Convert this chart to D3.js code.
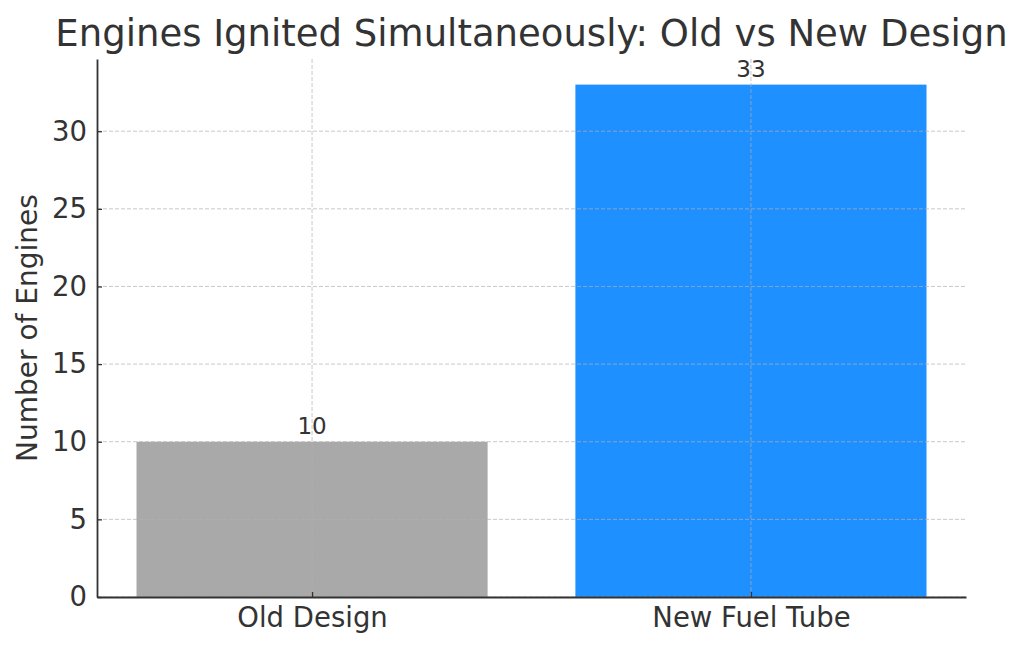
<!DOCTYPE html>
<html><head><meta charset="utf-8">
<script src="https://cdn.jsdelivr.net/npm/d3@7"></script>
<style>body{margin:0;background:#fff;} text{font-family:"DejaVu Sans",sans-serif;}</style>
</head><body>
<svg id="c" width="1024" height="649"></svg>
<script>
const categories = ["Old Design", "New Fuel Tube"];
const values = [10, 33];
const colors = ["#a9a9a9", "#1e90ff"];
const yTicks = [0, 5, 10, 15, 20, 25, 30];
const title = "Engines Ignited Simultaneously: Old vs New Design";
const yLabel = "Number of Engines";

const svg = d3.select("#c");
const L = 97, R = 966, T = 59, B = 597;
const x = d3.scaleLinear().domain([-0.49, 1.49]).range([L, R]);
const y = d3.scaleLinear().domain([0, 34.65]).range([B, T]);
const bw = 0.8;
const ink = "#333333";

// bars
svg.selectAll("rect.bar").data(values).enter().append("rect")
  .attr("x", (d,i) => x(i - bw/2)).attr("width", (d,i) => x(i + bw/2) - x(i - bw/2))
  .attr("y", d => y(d)).attr("height", d => y(0) - y(d))
  .attr("fill", (d,i) => colors[i]);

// grid (drawn over bars)
const g = svg.append("g");
g.selectAll("line.hg").data(yTicks).enter().append("line")
  .attr("x1", L).attr("x2", R).attr("y1", d => y(d)).attr("y2", d => y(d))
  .attr("stroke", "#b0b0b0").attr("stroke-opacity", 0.7).attr("stroke-width", 1).attr("stroke-dasharray", "4,2");
g.selectAll("line.vg").data(categories).enter().append("line")
  .attr("x1", (d,i) => x(i)).attr("x2", (d,i) => x(i)).attr("y1", T).attr("y2", B)
  .attr("stroke", "#b0b0b0").attr("stroke-opacity", 0.7).attr("stroke-width", 1).attr("stroke-dasharray", "4,2");

// axes
const yAxis = d3.axisLeft(y).tickValues(yTicks).tickSizeInner(-5).tickSizeOuter(0).tickPadding(10);
const ya = svg.append("g").attr("transform", `translate(${L},0)`).call(yAxis);
ya.select(".domain").attr("stroke", ink).attr("stroke-width", 1.8);
ya.selectAll(".tick line").attr("stroke", ink).attr("stroke-width", 1.3);
ya.selectAll(".tick text").attr("fill", ink).style("font-size", "27.5px").style("font-family", "DejaVu Sans");

const xAxis = d3.axisBottom(x).tickValues([0, 1]).tickFormat((d) => categories[d]).tickSizeInner(-5).tickSizeOuter(0).tickPadding(10);
const xa = svg.append("g").attr("transform", `translate(0,${B})`).call(xAxis);
xa.select(".domain").attr("stroke", ink).attr("stroke-width", 1.8);
xa.selectAll(".tick line").attr("stroke", ink).attr("stroke-width", 1.3);
xa.selectAll(".tick text").attr("fill", ink).style("font-size", "27.5px").style("font-family", "DejaVu Sans");

// value labels
svg.selectAll("text.val").data(values).enter().append("text")
  .attr("x", (d,i) => x(i)).attr("y", d => y(d) - 8)
  .attr("text-anchor", "middle").attr("fill", ink).style("font-size", "23px")
  .text(d => d);

// title
svg.append("text").attr("x", (L+R)/2).attr("y", 46).attr("text-anchor", "middle")
  .attr("fill", ink).style("font-size", "37px").text(title);

// y label
svg.append("text").attr("transform", `translate(37,${(T+B)/2}) rotate(-90)`)
  .attr("text-anchor", "middle").attr("fill", ink).style("font-size", "28px").text(yLabel);
</script>
</body></html>
